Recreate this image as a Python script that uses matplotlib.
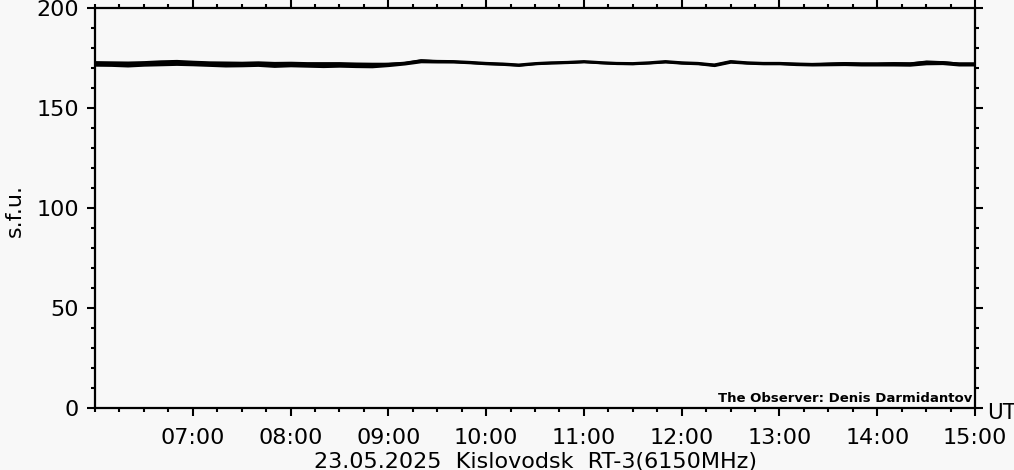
import matplotlib
matplotlib.use("Agg")
import matplotlib.pyplot as plt
from matplotlib.ticker import MultipleLocator, FixedLocator
import numpy as np

# minutes after 06:00 UT, 10-minute grid
minutes = list(range(0, 541, 10))
# centre of the flux trace (s.f.u.)
centre = [172.3, 172.2, 172.0, 172.3, 172.6, 172.8, 172.5, 172.2, 172.0, 172.0,
          172.2, 171.8, 172.0, 171.8, 171.7, 171.8, 171.6, 171.5, 171.8, 172.4,
          173.6, 173.3, 173.2, 172.8, 172.3, 172.0, 171.5, 172.2, 172.6, 172.8,
          173.2, 172.7, 172.3, 172.2, 172.6, 173.2, 172.6, 172.3, 171.5, 173.2,
          172.6, 172.3, 172.3, 172.0, 171.8, 172.0, 172.2, 172.0, 172.0, 172.1,
          172.0, 172.8, 172.7, 172.0, 172.0]
# half width of the noise band (s.f.u.)
halfwidth = [1.4, 1.4, 1.5, 1.4, 1.5, 1.5, 1.4, 1.4, 1.5, 1.4,
             1.4, 1.5, 1.4, 1.4, 1.5, 1.4, 1.4, 1.4, 1.1, 0.9,
             1.0, 0.8, 0.7, 0.7, 0.7, 0.7, 0.7, 0.6, 0.6, 0.6,
             0.6, 0.6, 0.6, 0.6, 0.6, 0.7, 0.7, 0.7, 0.8, 0.8,
             0.7, 0.7, 0.7, 0.8, 0.8, 0.9, 1.0, 1.0, 1.0, 1.1,
             1.1, 1.2, 1.0, 1.0, 1.0]

hour_labels = ["07:00", "08:00", "09:00", "10:00", "11:00", "12:00", "13:00", "14:00", "15:00"]

bg = "#f8f8f8"
plt.rcParams['font.family'] = ['DejaVu Sans']
fig = plt.figure(figsize=(10.14, 4.70), dpi=100, facecolor=bg)
W, H = 1014, 470
ax = fig.add_axes([95 / W, 1 - 408 / H, 880 / W, 400 / H], facecolor=bg)

t = np.array(minutes, dtype=float)
c = np.array(centre)
w = np.array(halfwidth)
ax.fill_between(t, c - w, c + w, color="black", linewidth=0)
ax.plot(t, c, color="black", lw=2.2)

ax.set_xlim(0, 540)
ax.set_ylim(0, 200)

ax.xaxis.set_major_locator(FixedLocator(list(range(60, 541, 60))))
ax.set_xticklabels(hour_labels)
ax.xaxis.set_minor_locator(MultipleLocator(15))
ax.yaxis.set_major_locator(MultipleLocator(50))
ax.yaxis.set_minor_locator(MultipleLocator(10))

for s in ax.spines.values():
    s.set_linewidth(1.6)
ax.tick_params(which="both", direction="out", top=True, right=True, width=1.5, color="black")
ax.tick_params(which="major", length=5.5)
ax.tick_params(which="minor", length=3)
ax.tick_params(axis="y", labelsize=16, pad=6)
ax.tick_params(axis="x", labelsize=16, pad=9)

fig.text(15 / W, 1 - 211 / H, "s.f.u.", rotation=90, ha="center", va="center", fontsize=16)
fig.text(987 / W, 1 - 413 / H, "UT", ha="left", va="center", fontsize=15.5)
fig.text(535 / W, 1 - 462 / H, "23.05.2025  Kislovodsk  RT-3(6150MHz)", ha="center", va="center", fontsize=16)
ax.text(0.997, 0.008, "The Observer: Denis Darmidantov", transform=ax.transAxes,
        ha="right", va="bottom", fontsize=9.5, fontweight="bold")

fig.savefig("out.png", dpi=100, facecolor=bg)
